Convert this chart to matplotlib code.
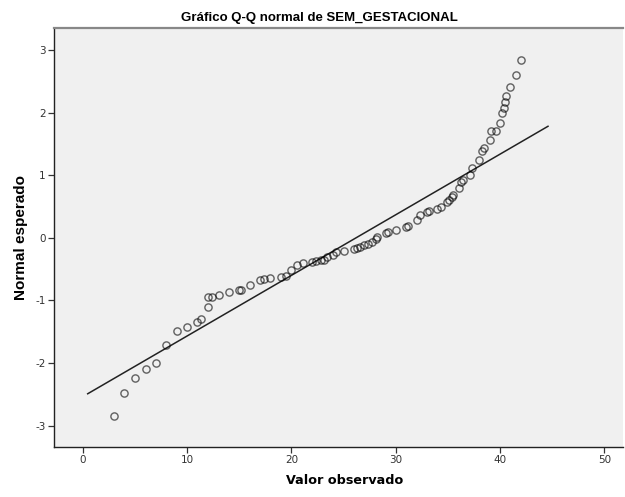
import numpy as np
import matplotlib
matplotlib.use("Agg")
import matplotlib.pyplot as plt

plt.rcParams['axes.unicode_minus'] = False

observed = [3.0, 4.0, 5.05, 6.04, 7.03, 8.0, 9.0, 10.0, 11.0, 11.3,
            12.0, 12.0, 12.4, 13.1, 14.0, 15.0, 15.2, 16.0, 17.0, 17.4,
            18.0, 19.0, 19.5, 20.0, 20.5, 21.1, 22.0, 22.4, 22.8, 23.1,
            23.4, 24.0, 24.3, 25.0, 26.0, 26.3, 26.6, 27.0, 27.3, 27.7,
            28.1, 28.2, 29.1, 29.3, 30.0, 31.0, 31.2, 32.0, 32.3, 33.0,
            33.2, 34.0, 34.3, 34.9, 35.1, 35.4, 35.5, 36.05, 36.3, 36.5,
            37.1, 37.3, 38.0, 38.3, 38.5, 39.0, 39.1, 39.6, 40.0, 40.2,
            40.4, 40.5, 40.6, 41.0, 41.5, 42.0]
expected = [-2.84, -2.47, -2.24, -2.09, -2.0, -1.71, -1.48, -1.43, -1.34, -1.29,
            -1.10, -0.94, -0.94, -0.91, -0.87, -0.84, -0.83, -0.76, -0.68, -0.66,
            -0.64, -0.63, -0.61, -0.52, -0.43, -0.40, -0.38, -0.37, -0.36, -0.35,
            -0.31, -0.27, -0.23, -0.21, -0.18, -0.16, -0.14, -0.12, -0.10, -0.07,
            -0.02, 0.02, 0.07, 0.09, 0.13, 0.17, 0.19, 0.29, 0.37, 0.41,
            0.43, 0.46, 0.49, 0.57, 0.60, 0.65, 0.68, 0.80, 0.89, 0.93,
            1.01, 1.11, 1.25, 1.39, 1.43, 1.57, 1.70, 1.71, 1.83, 2.00,
            2.07, 2.17, 2.27, 2.41, 2.60, 2.84]
# reference line: y = (x - mean) / sd
line_x = [0.48, 44.6]
mean_obs = 26.2
sd_obs = 10.33

x_ticks = [0, 10, 20, 30, 40, 50]
y_ticks = [-3, -2, -1, 0, 1, 2, 3]

fig = plt.figure(figsize=(6.25, 4.97), dpi=100)
ax = fig.add_axes([0.0864, 0.1006, 0.9106, 0.8430])
ax.set_facecolor('#f0f0f0')

lx = np.array(line_x)
ax.plot(lx, (lx - mean_obs) / sd_obs, color='#222222', lw=1.1, zorder=2)
ax.plot(observed, expected, 'o', ms=5.2, mfc='none', mec=(0, 0, 0, 0.6),
        mew=1.0, zorder=3)

ax.set_xlim(-2.75, 51.8)
ax.set_ylim(-3.34, 3.35)
ax.set_xticks(x_ticks)
ax.set_yticks(y_ticks)
ax.tick_params(direction='out', length=4, width=0.9, color='#333333',
               labelsize=7.5, labelcolor='#333333', pad=2)

for s in ['left', 'bottom']:
    ax.spines[s].set_color('#222222')
    ax.spines[s].set_linewidth(1.0)
ax.spines['top'].set_color('#888888')
ax.spines['top'].set_linewidth(1.6)
ax.spines['right'].set_visible(False)

ax.set_title('Gráfico Q-Q normal de SEM_GESTACIONAL', fontsize=9.5,
             fontweight='bold', family='Liberation Sans', pad=5, x=0.467)
ax.set_xlabel('Valor observado', fontsize=9.2, fontweight='bold',
              family='DejaVu Sans', labelpad=6, x=0.51)
ax.set_ylabel('Normal esperado', fontsize=11, fontweight='bold',
              family='Liberation Sans', labelpad=5)

fig.savefig('out.png', dpi=100)
